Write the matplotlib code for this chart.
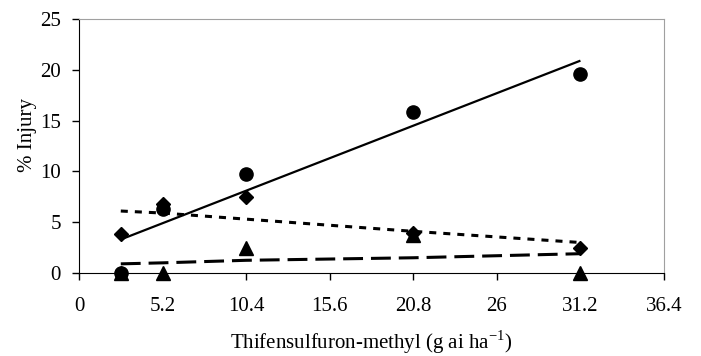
import matplotlib.pyplot as plt

plt.rcParams['font.family'] = ['Liberation Serif', 'DejaVu Serif']
plt.rcParams['mathtext.fontset'] = 'custom'
plt.rcParams['mathtext.rm'] = 'Liberation Serif'

# rates (g ai/ha)
rates = [2.6, 5.2, 10.4, 20.8, 31.2]

# observed injury
circles = [0.0, 6.3, 9.7, 15.8, 19.6]
diamonds = [3.8, 6.8, 7.5, 3.9, 2.5]
triangles = [0.0, 0.0, 2.5, 3.7, 0.0]

# fitted lines
fitSolid = [3.3, 4.9, 8.1, 14.5, 20.9]
fitDotted = [6.1, 5.9, 5.3, 4.1, 3.0]
fitDashed = [0.9, 1.0, 1.25, 1.5, 1.9]

xTicks = [0, 5.2, 10.4, 15.6, 20.8, 26, 31.2, 36.4]
xTickLabels = ["0", "5.2", "10.4", "15.6", "20.8", "26", "31.2", "36.4"]

fig = plt.figure(figsize=(7.01, 3.56), dpi=100)
ax = fig.add_axes([79 / 701, 1 - 273 / 356, 585 / 701, 254 / 356])

# fitted lines
ax.plot(rates, fitSolid, color="black", lw=1.6, solid_capstyle="butt")
ax.plot(rates, fitDotted, color="black", lw=2.2, dashes=(2.3, 2.3))
ax.plot(rates, fitDashed, color="black", lw=2.2, dashes=(6.5, 2.6))

# markers
ax.plot(rates, triangles, "^", color="black", ms=9.5, clip_on=False)
ax.plot(rates, diamonds, "D", color="black", ms=7.5, clip_on=False)
ax.plot(rates, circles, "o", color="black", ms=9.5, clip_on=False)

ax.set_xlim(0, 36.4)
ax.set_ylim(0, 25)
ax.set_xticks(xTicks)
ax.set_xticklabels(xTickLabels)
ax.set_yticks([0, 5, 10, 15, 20, 25])
ax.tick_params(axis="both", labelsize=15, direction="out", length=5, width=1)
ax.tick_params(axis="x", pad=12)
ax.tick_params(axis="y", pad=8)

ax.spines["top"].set_color("#a0a0a0")
ax.spines["right"].set_color("#a0a0a0")
ax.spines["left"].set_color("black")
ax.spines["bottom"].set_color("black")

ax.set_xlabel("Thifensulfuron-methyl (g ai ha$^{\\mathregular{-1}}$)", fontsize=15, labelpad=9)
ax.set_ylabel("% Injury", fontsize=15)
ax.yaxis.set_label_coords(-0.072, 0.545)

fig.savefig("out.png", dpi=100)
